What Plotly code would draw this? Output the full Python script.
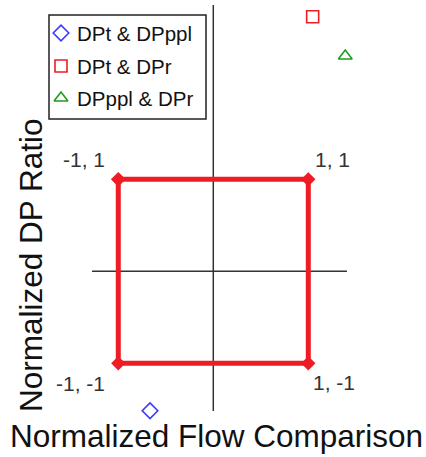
import plotly.graph_objects as go

# Normalized corners of the reference square
square_x = [-1, 1, 1, -1, -1]
square_y = [1, 1, -1, -1, 1]

# Comparison points
series_names = ["DPt & DPppl", "DPt & DPr", "DPppl & DPr"]
series_x = [-0.666, 1.046, 1.389]
series_y = [-1.515, 2.767, 2.340]
series_symbols = ["diamond-open", "square-open", "triangle-up-open"]
series_colors = ["#3a3aff", "#ee1c25", "#1f9a1f"]

# Extents of the drawn cross-hair axes
h_axis_x = [-1.277, 1.407]
v_axis_y = [-1.518, 2.895]

# Corner labels
corner_labels = ["-1, 1", "1, 1", "-1, -1", "1, -1"]
corner_x = [-1, 1, -1, 1]
corner_y = [1, 1, -1, -1]
corner_shift = [(-34, 20), (24, 20), (-38, -20), (26, -19)]

W, H = 426, 457
FONT = "Liberation Sans, Arial"

fig = go.Figure()

# cross-hair axes through the origin
fig.add_trace(go.Scatter(x=h_axis_x, y=[0, 0], mode="lines",
                         line=dict(color="#333333", width=1.5),
                         showlegend=False, hoverinfo="skip"))
fig.add_trace(go.Scatter(x=[0, 0], y=v_axis_y, mode="lines",
                         line=dict(color="#333333", width=1.5),
                         showlegend=False, hoverinfo="skip"))

# red reference square
fig.add_trace(go.Scatter(x=square_x, y=square_y, mode="lines+markers",
                         line=dict(color="#ee1c25", width=5),
                         marker=dict(symbol="diamond", size=11, color="#ee1c25"),
                         showlegend=False, hoverinfo="skip"))

for name, x, y, sym, col in zip(series_names, series_x, series_y,
                                series_symbols, series_colors):
    fig.add_trace(go.Scatter(x=[x], y=[y], mode="markers", name=name,
                             showlegend=False,
                             marker=dict(symbol=sym, size=12, color=col,
                                         line=dict(color=col, width=1.6))))

for txt, cx, cy, (dx, dy) in zip(corner_labels, corner_x, corner_y, corner_shift):
    fig.add_annotation(x=cx, y=cy, text=txt, showarrow=False,
                       xshift=dx, yshift=dy,
                       font=dict(family=FONT, size=21, color="#333333"))

# axis titles
fig.add_annotation(xref="paper", yref="paper", x=216 / W, y=1 - 436 / H,
                   xanchor="center", yanchor="middle",
                   text="Normalized Flow Comparison", showarrow=False,
                   font=dict(family=FONT, size=31.5, color="#111111"))
fig.add_annotation(xref="paper", yref="paper", x=31 / W, y=1 - 265 / H,
                   xanchor="center", yanchor="middle",
                   text="Normalized DP Ratio", showarrow=False, textangle=-90,
                   font=dict(family=FONT, size=31.5, color="#111111"))

# boxed legend, laid out on a pixel-space overlay axis
legend_left, legend_top, legend_right, legend_bottom = 49, 15, 206, 119
legend_rows = [33, 66, 98]
legend_symbol_x = 61
legend_text_x = 75
fig.add_shape(type="rect", xref="paper", yref="paper",
              x0=legend_left / W, x1=legend_right / W,
              y0=1 - legend_bottom / H, y1=1 - legend_top / H,
              line=dict(color="#222222", width=1.5), fillcolor="white",
              layer="below")
fig.add_trace(go.Scatter(
    x=[legend_symbol_x] * 3, y=legend_rows, mode="markers",
    xaxis="x2", yaxis="y2", showlegend=False, hoverinfo="skip",
    marker=dict(symbol=series_symbols, size=12, color=series_colors,
                line=dict(color=series_colors, width=1.6))))
for name, ry in zip(series_names, legend_rows):
    fig.add_annotation(xref="x2", yref="y2", x=legend_text_x, y=ry,
                       xanchor="left", yanchor="middle", text=name,
                       showarrow=False,
                       font=dict(family=FONT, size=20.5, color="#111111"))

fig.update_layout(
    width=W, height=H,
    margin=dict(l=0, r=0, t=0, b=0),
    paper_bgcolor="white", plot_bgcolor="white",
    xaxis=dict(range=[-2.245, 2.239], visible=False, fixedrange=True),
    yaxis=dict(range=[-2.018, 2.949], visible=False, fixedrange=True),
    xaxis2=dict(range=[0, W], visible=False, fixedrange=True,
                overlaying="x"),
    yaxis2=dict(range=[H, 0], visible=False, fixedrange=True,
                overlaying="y"),
    showlegend=False,
)

fig.write_html("out.html")
